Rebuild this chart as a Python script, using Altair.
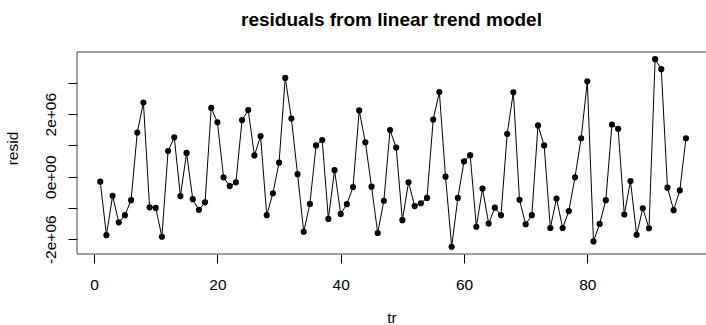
import altair as alt
import pandas as pd

tr = list(range(1, 97))
resid_millions = [
    -0.16, -1.87, -0.61, -1.46, -1.23, -0.75, 1.41, 2.37, -0.98, -1.00,
    -1.92, 0.82, 1.26, -0.62, 0.76, -0.72, -1.06, -0.82, 2.20, 1.74,
    -0.02, -0.30, -0.18, 1.81, 2.13, 0.68, 1.30, -1.23, -0.53, 0.45,
    3.16, 1.86, 0.08, -1.76, -0.87, 1.00, 1.17, -1.35, 0.21, -1.19,
    -0.88, -0.33, 2.12, 1.10, -0.32, -1.80, -0.77, 1.49, 0.93, -1.39,
    -0.18, -0.94, -0.85, -0.68, 1.83, 2.71, 0.00, -2.24, -0.68, 0.49,
    0.69, -1.60, -0.38, -1.50, -0.99, -1.23, 1.37, 2.70, -0.74, -1.52,
    -1.23, 1.64, 1.00, -1.64, -0.70, -1.64, -1.10, -0.02, 1.23, 3.05,
    -2.07, -1.51, -0.75, 1.67, 1.53, -1.21, -0.14, -1.86, -1.01, -1.65,
    3.76, 3.44, -0.35, -1.07, -0.44, 1.23,
]
resid = [v * 1e6 for v in resid_millions]
x_ticks = [0, 20, 40, 60, 80]
y_ticks = [-2e6, -1e6, 0, 1e6, 2e6, 3e6]

df = pd.DataFrame({"tr": tr, "resid": resid})

FONT = "Liberation Sans"
W, H = 629, 202

xscale = alt.Scale(domain=[-2.774, 99.25], nice=False, zero=False)
yscale = alt.Scale(domain=[-2.473e6, 3.989e6], nice=False, zero=False)

xaxis = alt.Axis(values=x_ticks, domain=False, grid=False, tickSize=9,
                 tickColor="black", tickWidth=1, labelFont=FONT,
                 labelFontSize=15.5, labelColor="black", labelBaseline="middle",
                 labelPadding=21, title="tr", titleFont=FONT, titleFontSize=15.5,
                 titleFontWeight="normal", titleColor="black",
                 titleBaseline="alphabetic", titleY=68)
yaxis = alt.Axis(values=y_ticks, domain=False, grid=False, tickSize=9,
                 tickColor="black", tickWidth=1, labelFont=FONT,
                 labelFontSize=15.5, labelColor="black", labelAngle=270,
                 labelAlign="center", labelBaseline="middle", labelPadding=18,
                 labelOverlap=False,
                 labelExpr="datum.value == 2000000 ? '2e+06' : datum.value == 0 ? '0e+00' : datum.value == -2000000 ? '-2e+06' : ''",
                 title="resid", titleFont=FONT, titleFontSize=15.5,
                 titleFontWeight="normal", titleColor="black", titleAngle=270,
                 titleAlign="center", titleBaseline="middle", titleX=-65, titleY=96)

base = alt.Chart(df).encode(
    x=alt.X("tr:Q", scale=xscale, axis=xaxis),
    y=alt.Y("resid:Q", scale=yscale, axis=yaxis),
)
line = base.mark_line(color="black", strokeWidth=1)
pts = base.mark_point(filled=True, color="black", size=38, opacity=1)

one = pd.DataFrame({"a": [0]})
frame_top = alt.Chart(one).mark_rule(color="#444", strokeWidth=1).encode(
    x=alt.value(0), x2=alt.value(W), y=alt.value(0))
frame_bot = alt.Chart(one).mark_rule(color="#444", strokeWidth=1).encode(
    x=alt.value(0), x2=alt.value(W), y=alt.value(H))
frame_left = alt.Chart(one).mark_rule(color="#444", strokeWidth=1).encode(
    x=alt.value(0), y=alt.value(0), y2=alt.value(H))

chart = alt.layer(line, pts, frame_top, frame_bot, frame_left).properties(
    width=W, height=H,
    title=alt.TitleParams("residuals from linear trend model", font=FONT,
                          fontSize=19, fontWeight="bold", color="black",
                          anchor="middle", baseline="alphabetic", offset=7),
    autosize=alt.AutoSizeParams(type="none"),
    padding={"left": 77, "top": 52, "right": 0, "bottom": 71},
    background="white",
).configure_view(stroke=None)

chart.save("out.html", embed_options={"renderer": "svg", "actions": False})
